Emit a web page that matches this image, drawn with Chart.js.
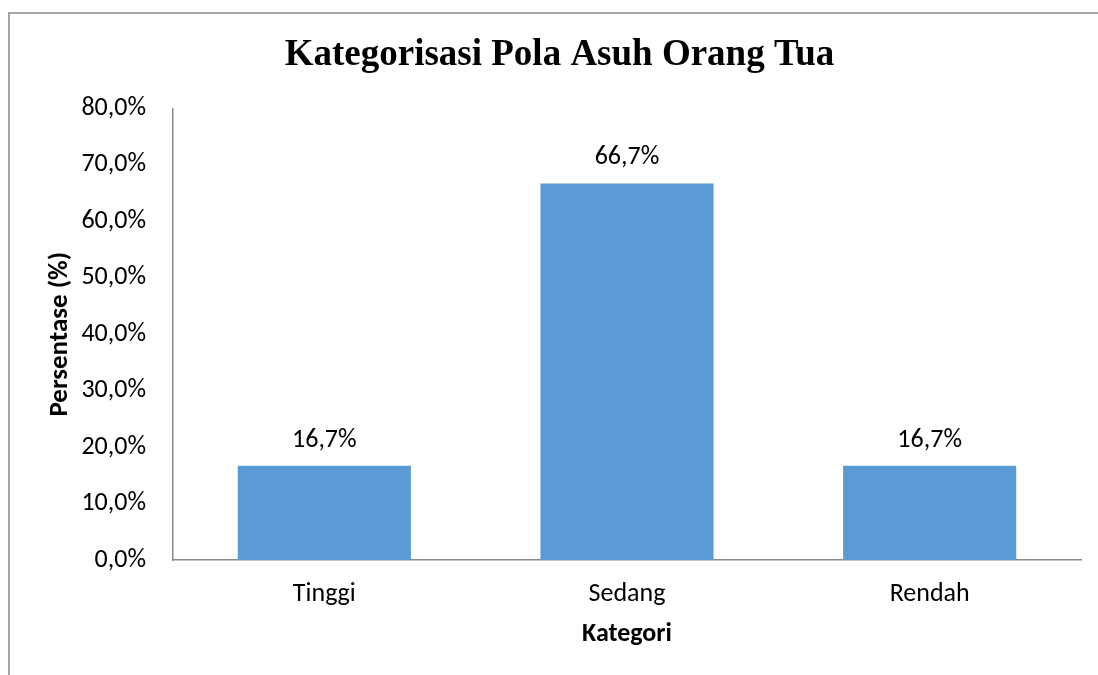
<!DOCTYPE html>
<html>
<head>
<meta charset="utf-8">
<title>Kategorisasi Pola Asuh Orang Tua</title>
<script src="https://cdn.jsdelivr.net/npm/chart.js@4"></script>
<style>
    html, body { margin: 0; padding: 0; background: #fff; overflow: hidden; }
    .frame {
        position: absolute; left: 8px; top: 12px;
        width: 1200px; height: 800px;
        border-top: 2px solid #a6a6a6; border-left: 2px solid #a6a6a6;
    }
    .wrap { position: absolute; left: 0; top: 0; width: 1098px; height: 675px; }
</style>
</head>
<body>
<div class="frame"></div>
<div class="wrap"><canvas id="chart" width="1098" height="675"></canvas></div>
<script>
// Kategorisasi Pola Asuh Orang Tua - bar chart
(function () {
    const categories = ['Tinggi', 'Sedang', 'Rendah'];
    const percentages = [16.7, 66.7, 16.7];
    const yTicks = [0, 10, 20, 30, 40, 50, 60, 70, 80];

    const FONT = 'Carlito, Lato, "Open Sans", sans-serif';
    const BAR_COLOR = '#5b9bd5';
    const AXIS_COLOR = '#898989';

    function formatPct(v) {
        return Number(v).toFixed(1).replace('.', ',') + '%';
    }

    // --- Value labels above the bars ---
    const valueLabels = {
        id: 'valueLabels',
        afterDatasetsDraw: function (chart) {
            const ctx = chart.ctx;
            const meta = chart.getDatasetMeta(0);
            ctx.save();
            ctx.font = '26px ' + FONT;
            ctx.fillStyle = '#000';
            ctx.textAlign = 'center';
            ctx.textBaseline = 'alphabetic';
            meta.data.forEach(function (bar, i) {
                ctx.fillText(formatPct(percentages[i]), bar.x, bar.y - 19);
            });
            ctx.restore();
        }
    };

    new Chart(document.getElementById('chart').getContext('2d'), {
        type: 'bar',
        data: {
            labels: categories,
            datasets: [{
                data: percentages,
                backgroundColor: BAR_COLOR,
                borderWidth: 0,
                barPercentage: 0.572,
                categoryPercentage: 1
            }]
        },
        options: {
            responsive: false,
            animation: false,
            // left padding shifts the title centre; y axis width keeps the plot at x=173
            layout: { padding: { left: 38, right: 17, top: 0, bottom: 0 } },
            plugins: {
                legend: { display: false },
                tooltip: { enabled: false },
                title: {
                    display: true,
                    text: 'Kategorisasi Pola Asuh Orang Tua',
                    color: '#000',
                    font: { family: '"Liberation Serif", "Times New Roman", serif', size: 37, weight: 'bold' },
                    padding: { top: 33, bottom: 31 }
                }
            },
            scales: {
                x: {
                    grid: { display: false, drawTicks: false },
                    border: { display: true, color: AXIS_COLOR, width: 1.5 },
                    ticks: { color: '#000', font: { family: FONT, size: 26 }, padding: 19 },
                    title: {
                        display: true,
                        text: 'Kategori',
                        color: '#000',
                        font: { family: FONT, size: 26, weight: 'bold' },
                        padding: { top: 0, bottom: 25 }
                    },
                    afterFit: function (s) { s.height = 115; }
                },
                y: {
                    min: 0,
                    max: 80,
                    afterBuildTicks: function (s) {
                        s.ticks = yTicks.map(v => ({ value: v }));
                    },
                    grid: { display: false, drawTicks: false },
                    border: { display: true, color: AXIS_COLOR, width: 1.5 },
                    ticks: {
                        color: '#000',
                        font: { family: FONT, size: 26 },
                        padding: 27,
                        callback: function (v) { return formatPct(v); }
                    },
                    title: {
                        display: true,
                        text: 'Persentase (%)',
                        color: '#000',
                        font: { family: FONT, size: 27, weight: 'bold' },
                        padding: { top: 6, bottom: 0 }
                    },
                    afterFit: function (s) { s.width = 135; }
                }
            }
        },
        plugins: [valueLabels]
    });
})();
</script>
</body>
</html>
